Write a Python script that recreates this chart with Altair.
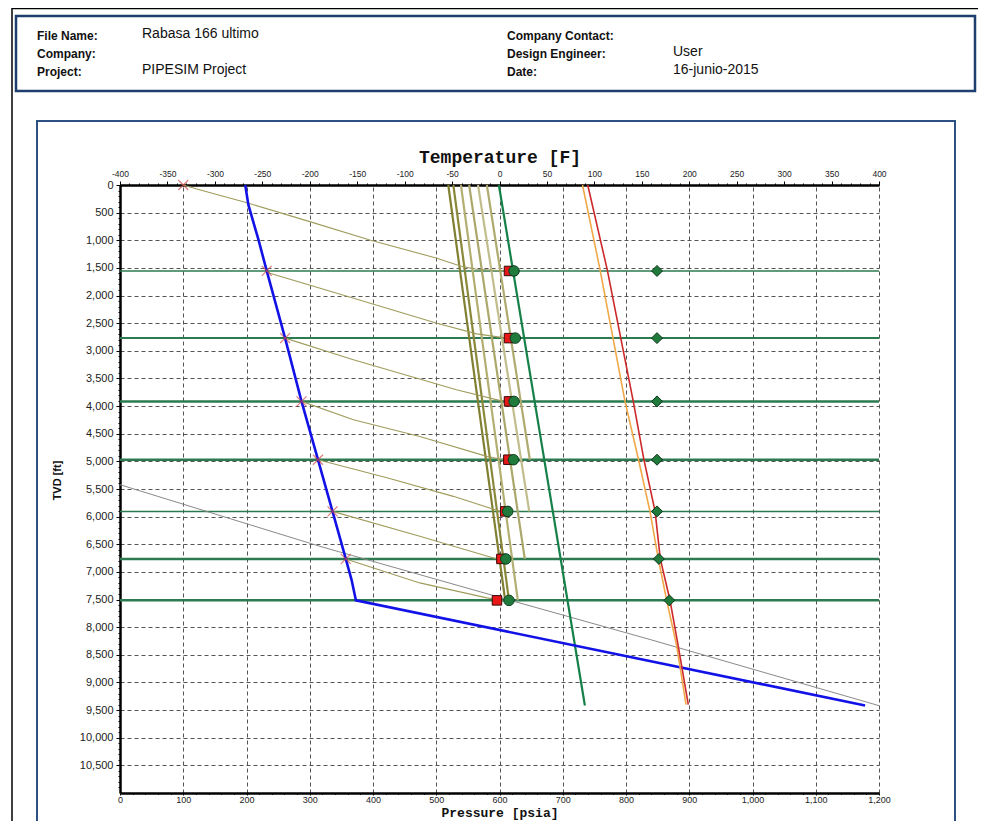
import altair as alt
import pandas as pd

# ---------------- data ----------------
valve_depth = [1555, 2770, 3915, 4970, 5905, 6765, 7515]

prod_depth = [0, 361, 994, 1555, 2770, 3915, 4970, 5905, 6765, 7139, 7515, 9416]
prod_press = [198, 203, 219, 232, 261, 287, 313, 336, 357, 366, 373, 1178]

casing_depth = [0, 9416]
casing_press = [599, 735]

gray_depth = [5422, 6537, 7446, 8223, 9420]
gray_press = [0, 316, 596, 838, 1200]

xmark_depth = [0, 1555, 2770, 3915, 4970, 5905, 6765]
xmark_press = [100, 232, 261, 287, 313, 336, 357]

unl_depth = [
    [0, 90, 302, 663, 994, 1325, 1464, 1524, 1555],
    [1555, 1596, 1957, 2500, 2693, 2770],
    [2770, 3163, 3705, 3915],
    [3915, 4246, 4549, 4910, 4970],
    [4970, 5295, 5633, 5905],
    [5905, 6356, 6765],
    [6765, 7199, 7470, 7515],
]
unl_press = [
    [100, 127, 195, 300, 395, 501, 538, 564, 611],
    [232, 237, 343, 501, 564, 611],
    [261, 369, 532, 606],
    [287, 369, 474, 580, 606],
    [313, 422, 527, 601],
    [336, 474, 596],
    [357, 474, 580, 606],
]

grad_names = ["g1", "g2", "g3", "g4", "g5", "g6"]
grad_top_press = [519, 527, 539, 552, 566, 580]
grad_bot_press = [609, 615, 629, 640, 647, 648]
grad_bot_depth = [7515, 7515, 7515, 6765, 5905, 4970]

square_press = [615, 615, 615, 614, 609, 603, 596]
circle_press = [623, 625, 623, 622, 613, 610, 615]

temp_depth = [0, 1536, 3916, 4952, 5905, 6765, 7513, 8344, 9400]
fluid_temp = [93, 113.6, 141, 152, 164, 169.5, 179.7, 188.4, 199]
ambient_temp = [87.5, 106, 132.3, 146.3, 158.6, 167.4, 176.2, 186.8, 196.6]
diamond_temp = [166, 166, 166, 166, 166, 168, 179]

# ---------------- styles ----------------
valve_width = [1.5, 2, 2.5, 2.5, 1.5, 2.5, 2.5]
grad_colors = ["#817f32", "#8a883a", "#b3ae72", "#aca86c", "#c2bd8c", "#b0ab70"]
grad_widths = [2.2, 2.2, 1.3, 1.3, 1.3, 1.3]

W, H = 759, 608

# ---------------- tables ----------------
prod_df = pd.DataFrame({"P": prod_press, "D": prod_depth, "i": range(len(prod_depth))})
casing_df = pd.DataFrame({"P": casing_press, "D": casing_depth})
gray_df = pd.DataFrame({"P": gray_press, "D": gray_depth})
xmark_df = pd.DataFrame({"P": xmark_press, "D": xmark_depth})
rows = []
for k, (ds, ps) in enumerate(zip(unl_depth, unl_press)):
    for j, (d, p) in enumerate(zip(ds, ps)):
        rows.append({"s": f"u{k}", "P": p, "D": d, "i": j})
unl_df = pd.DataFrame(rows)
rows = []
for n, pt, pb, db in zip(grad_names, grad_top_press, grad_bot_press, grad_bot_depth):
    rows.append({"s": n, "P": pt, "D": 0, "i": 0})
    rows.append({"s": n, "P": pb, "D": db, "i": 1})
grad_df = pd.DataFrame(rows)
valve_df = pd.DataFrame({"D": valve_depth, "w": valve_width})
sq_df = pd.DataFrame({"P": square_press, "D": valve_depth})
ci_df = pd.DataFrame({"P": circle_press, "D": valve_depth})
fluid_df = pd.DataFrame({"T": fluid_temp, "D": temp_depth, "i": range(len(temp_depth))})
amb_df = pd.DataFrame({"T": ambient_temp, "D": temp_depth, "i": range(len(temp_depth))})
dia_df = pd.DataFrame({"T": diamond_temp, "D": valve_depth})
one = pd.DataFrame({"a": [0]})

# ---------------- axes ----------------
cond_major = lambda step: f"datum.value % {step} === 0"
x_axis = alt.Axis(
    orient="bottom", values=list(range(0, 1201, 20)),
    labelExpr=f"{cond_major(100)} ? format(datum.value, ',') : ''",
    tickSize={"condition": {"test": cond_major(100), "value": 2}, "value": 1.5},
    tickColor="black", domainColor="black", domainWidth=2.5,
    grid=True, gridDash=[4, 3], gridColor="#555555",
    gridOpacity={"condition": {"test": cond_major(100), "value": 1}, "value": 0},
    labelFont="Liberation Sans", labelFontSize=9, labelColor="#222222",
    labelPadding=0, labelFlush=False, labelOverlap=False,
    title="Pressure [psia]", titleFont="Liberation Mono", titleFontSize=13,
    titleFontWeight="bold", titleColor="#111111", titleX=W / 2, titleY=19.5,
    titleBaseline="middle", titleAlign="center",
)
y_axis = alt.Axis(
    orient="left", values=list(range(0, 11000, 100)),
    labelExpr=f"{cond_major(500)} ? format(datum.value, ',') : ''",
    tickSize={"condition": {"test": cond_major(500), "value": 4}, "value": 2},
    tickColor="black", domainColor="black", domainWidth=2.5,
    grid=True, gridDash=[4, 3], gridColor="#555555",
    gridOpacity={"condition": {"test": cond_major(500), "value": 1}, "value": 0},
    labelFont="Liberation Sans", labelFontSize=11, labelColor="#222222",
    labelPadding=3, labelOverlap=False,
    title="TVD [ft]", titleFont="Liberation Sans", titleFontSize=11,
    titleFontWeight="bold", titleColor="#111111", titleX=-63, titleY=295,
    titleBaseline="middle", titleAlign="center", titleAngle=270,
)
t_axis = alt.Axis(
    orient="top", values=list(range(-400, 401, 10)),
    labelExpr=f"{cond_major(50)} ? '' + datum.value : ''",
    tickSize={"condition": {"test": cond_major(50), "value": 4}, "value": 2},
    tickColor="black", domainColor="black", domainWidth=2.5, grid=False,
    labelFont="Liberation Sans", labelFontSize=8.5, labelColor="#222222",
    labelPadding=3, labelFlush=False, labelOverlap=False,
    title="Temperature [F]", titleFont="Liberation Mono", titleFontSize=18,
    titleFontWeight="bold", titleColor="#111111", titleX=W / 2, titleY=-28,
    titleBaseline="middle", titleAlign="center",
)

pscale = alt.Scale(domain=[0, 1200], nice=False, zero=False)
tscale = alt.Scale(domain=[-400, 400], nice=False, zero=False)
dscale = alt.Scale(domain=[0, 11000], reverse=True, nice=False, zero=False)

XP = lambda: alt.X("P:Q", scale=pscale, axis=x_axis)
XT = lambda: alt.X("T:Q", scale=tscale, axis=t_axis)
YD = lambda: alt.Y("D:Q", scale=dscale, axis=y_axis)

# ---------------- decorations ----------------
def box(x1, y1, x2, y2, color, w):
    return alt.Chart(one).mark_rect(fill=None, stroke=color, strokeWidth=w, clip=False).encode(
        x=alt.value(x1), x2=alt.value(x2), y=alt.value(y1), y2=alt.value(y2))

def txt(s, x, y, bold=False, size=12):
    return alt.Chart(one).mark_text(
        text=s, align="left", baseline="middle", font="Liberation Sans",
        fontSize=size, fontWeight="bold" if bold else "normal", color="#111111", clip=False
    ).encode(x=alt.value(x), y=alt.value(y))

ox, oy = 120, 185
deco = [
    alt.Chart(one).mark_rule(color="black", strokeWidth=1.5).encode(
        x=alt.value(12 - ox), x2=alt.value(986 - ox), y=alt.value(8.5 - oy)),
    alt.Chart(one).mark_rule(color="black", strokeWidth=1.5).encode(
        x=alt.value(12 - ox), y=alt.value(8 - oy), y2=alt.value(840 - oy)),
    box(16 - ox, 16 - oy, 975 - ox, 91 - oy, "#1d3e6e", 2.5),
    box(37 - ox, 121 - oy, 955 - ox, 900 - oy, "#2d5082", 2),
]
hdr = [
    ("File Name:", 37, 36, True, 12), ("Rabasa 166 ultimo", 142, 34, False, 14),
    ("Company:", 37, 54, True, 12),
    ("Project:", 37, 72, True, 12), ("PIPESIM Project", 142, 70, False, 14),
    ("Company Contact:", 507, 36, True, 12),
    ("Design Engineer:", 507, 54, True, 12), ("User", 673, 52, False, 14),
    ("Date:", 507, 72, True, 12), ("16-junio-2015", 673, 70, False, 14),
]
for s, x, y, b, sz in hdr:
    deco.append(txt(s, x - ox, y - oy, b, sz))

# ---------------- plot layers ----------------
valves = alt.Chart(valve_df).mark_rule(color="#2b7a50").encode(
    y=YD(), strokeWidth=alt.StrokeWidth("w:Q", scale=None, legend=None))

grad = alt.Chart(grad_df).mark_line().encode(
    x=XP(), y=YD(), order="i:Q",
    color=alt.Color("s:N", scale=alt.Scale(domain=grad_names, range=grad_colors), legend=None),
    strokeWidth=alt.StrokeWidth("s:N", scale=alt.Scale(domain=grad_names, range=grad_widths), legend=None),
)
unl = alt.Chart(unl_df).mark_line(color="#a09c5c", strokeWidth=1.1).encode(
    x=XP(), y=YD(), order="i:Q", detail="s:N")
gray = alt.Chart(gray_df).mark_line(color="#8a8a8a", strokeWidth=1).encode(x=XP(), y=YD())
casing = alt.Chart(casing_df).mark_line(color="#168049", strokeWidth=2.2).encode(x=XP(), y=YD())
prod = alt.Chart(prod_df).mark_line(color="#1212e6", strokeWidth=2.6).encode(
    x=XP(), y=YD(), order="i:Q")
xm = alt.Chart(xmark_df).mark_point(
    shape="M-1,-1L1,1M-1,1L1,-1", filled=False, color="#d04848", size=100, strokeWidth=1.2
).encode(x=XP(), y=YD())
sq = alt.Chart(sq_df).mark_square(
    filled=True, fill="#e81818", stroke="#3a0505", strokeWidth=1, size=90, opacity=1
).encode(x=XP(), y=YD())
ci = alt.Chart(ci_df).mark_circle(
    fill="#1f7a3c", stroke="#0d3d1d", strokeWidth=1, size=110, opacity=1
).encode(x=XP(), y=YD())

amb_line = alt.Chart(amb_df).mark_line(color="#f0a848", strokeWidth=1.6).encode(
    x=XT(), y=YD(), order="i:Q")
fluid_line = alt.Chart(fluid_df).mark_line(color="#cc2a2a", strokeWidth=1.6).encode(
    x=XT(), y=YD(), order="i:Q")
dia = alt.Chart(dia_df).mark_point(
    shape="diamond", filled=True, fill="#1f7a3c", stroke="#0a3318", strokeWidth=1, size=120, opacity=1
).encode(x=XT(), y=YD())

press_group = alt.layer(*deco, valves, grad, unl, gray, casing, prod, xm, sq, ci)
temp_group = alt.layer(amb_line, fluid_line, dia)

chart = alt.layer(press_group, temp_group).resolve_scale(
    x="independent", color="independent", strokeWidth="independent"
).properties(
    width=W, height=H,
    autosize=alt.AutoSizeParams(type="none"),
    padding={"left": 112, "top": 177, "right": 99, "bottom": 28},
    background="white",
).configure_view(stroke=None)

chart.save("out.html", embed_options={"renderer": "svg", "actions": False})
